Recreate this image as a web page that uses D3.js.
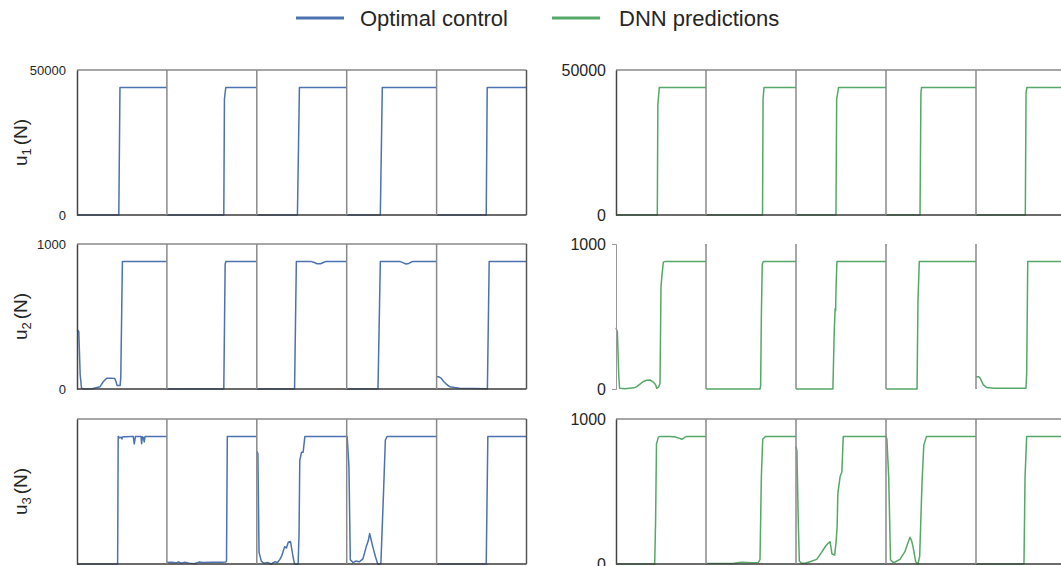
<!DOCTYPE html>
<html>
<head>
<meta charset="utf-8">
<script src="https://cdn.jsdelivr.net/npm/d3@7"></script>
<style>
  html, body { margin: 0; padding: 0; background: #fff; }
  svg { display: block; font-family: "Liberation Sans", Arial, sans-serif; }
</style>
</head>
<body>
<svg id="chart" width="1061" height="566"></svg>
<script>
// ---------------- DATA ----------------
const seriesNames = ["Optimal control", "DNN predictions"];
const rowLabels = ["1", "2", "3"];
const yMax = [50000, 1000, 1000];
const u1Ticks = [0, 50000];
const u2Ticks = [0, 1000];
const u3Ticks = [0, 1000];

// each segment: [t (normalised time 0..1), value]
const u1Optimal = [
  [[0,0],[0.465,0],[0.478,44000],[1,44000]],
  [[0,0],[0.633,0],[0.640,40000],[0.655,44000],[1,44000]],
  [[0,0],[0.452,0],[0.474,44000],[1,44000]],
  [[0,0],[0.374,0],[0.396,44000],[1,44000]],
  [[0,0],[0.552,0],[0.563,44000],[1,44000]]
];
const u1Dnn = [
  [[0,0],[0.459,0],[0.465,38000],[0.481,44000],[1,44000]],
  [[0,0],[0.628,0],[0.634,40000],[0.645,44000],[1,44000]],
  [[0,0],[0.444,0],[0.452,40000],[0.473,44000],[1,44000]],
  [[0,0],[0.378,0],[0.388,42000],[0.395,44000],[1,44000]],
  [[0,0],[0.548,0],[0.556,42000],[0.565,44000],[1,44000]]
];
const u2Optimal = [
  [[0,400],[0.01,405],[0.02,395],[0.035,100],[0.05,5],[0.08,0],[0.17,2],[0.21,8],[0.256,16],[0.292,50],[0.33,74],[0.37,75],[0.42,72],[0.435,50],[0.445,25],[0.48,25],[0.487,80],[0.505,880],[1,880]],
  [[0,0],[0.633,0],[0.648,860],[0.656,880],[1,880]],
  [[0,0],[0.42,0],[0.44,880],[0.6,880],[0.64,872],[0.67,864],[0.71,864],[0.74,872],[0.77,880],[1,880]],
  [[0,0],[0.348,0],[0.374,880],[0.59,880],[0.63,870],[0.66,862],[0.69,866],[0.72,876],[0.74,880],[1,880]],
  [[0,85],[0.02,85],[0.05,75],[0.08,50],[0.108,34],[0.144,16],[0.2,10],[0.255,6],[0.4,4],[0.555,2],[0.565,0],[0.585,880],[1,880]]
];
const u2Dnn = [
  [[0,423],[0.015,395],[0.03,100],[0.04,5],[0.1,2],[0.2,8],[0.23,16],[0.27,35],[0.3,50],[0.34,60],[0.378,62],[0.415,48],[0.44,30],[0.452,5],[0.475,15],[0.489,40],[0.5,705],[0.51,780],[0.526,875],[0.55,880],[1,880]],
  [[0,0],[0.6,0],[0.607,20],[0.615,500],[0.625,860],[0.637,880],[1,880]],
  [[0,0],[0.41,0],[0.425,400],[0.435,556],[0.44,540],[0.445,700],[0.455,880],[1,880]],
  [[0,0],[0.345,0],[0.355,600],[0.37,880],[1,880]],
  [[0,85],[0.03,85],[0.05,70],[0.08,30],[0.119,10],[0.2,6],[0.4,5],[0.555,5],[0.563,100],[0.575,880],[1,880]]
];
const u3Optimal = [
  [[0,0],[0.452,0],[0.458,880],[0.475,870],[0.49,875],[0.5,862],[0.51,878],[0.55,878],[0.6,880],[0.625,880],[0.637,828],[0.65,880],[0.712,880],[0.719,830],[0.728,878],[0.74,870],[0.748,842],[0.757,880],[1,880]],
  [[0,10],[0.05,12],[0.1,8],[0.13,14],[0.16,5],[0.2,12],[0.25,6],[0.3,2],[0.33,8],[0.36,14],[0.4,10],[0.5,12],[0.6,12],[0.655,14],[0.663,20],[0.672,880],[1,880]],
  [[0,780],[0.012,760],[0.025,80],[0.05,20],[0.08,5],[0.12,10],[0.16,0],[0.2,15],[0.23,10],[0.255,30],[0.28,60],[0.31,120],[0.33,110],[0.35,150],[0.375,155],[0.403,50],[0.42,0],[0.46,0],[0.47,210],[0.478,715],[0.497,770],[0.515,770],[0.535,880],[1,880]],
  [[0,880],[0.005,880],[0.025,670],[0.04,30],[0.07,10],[0.1,20],[0.14,15],[0.18,35],[0.218,120],[0.24,160],[0.255,210],[0.29,120],[0.32,50],[0.345,0],[0.38,0],[0.41,500],[0.43,855],[0.45,880],[1,880]],
  [[0,0],[0.552,0],[0.57,880],[1,880]]
];
const u3Dnn = [
  [[0,0],[0.43,0],[0.44,300],[0.45,830],[0.46,850],[0.47,875],[0.49,880],[0.6,880],[0.66,876],[0.7,868],[0.73,860],[0.76,872],[0.785,880],[1,880]],
  [[0,3],[0.3,3],[0.35,8],[0.4,12],[0.45,10],[0.5,8],[0.58,10],[0.6,30],[0.615,600],[0.63,860],[0.66,880],[1,880]],
  [[0,810],[0.01,780],[0.025,300],[0.037,20],[0.06,5],[0.1,5],[0.155,16],[0.23,32],[0.29,85],[0.33,124],[0.36,145],[0.378,154],[0.39,110],[0.4,69],[0.43,62],[0.445,150],[0.457,257],[0.465,487],[0.49,602],[0.51,637],[0.525,880],[1,880]],
  [[0,880],[0.01,860],[0.03,600],[0.05,30],[0.08,10],[0.1,14],[0.155,32],[0.21,85],[0.24,140],[0.267,184],[0.285,160],[0.3,120],[0.33,16],[0.355,0],[0.374,51],[0.4,556],[0.42,820],[0.45,880],[1,880]],
  [[0,0],[0.533,0],[0.545,600],[0.563,880],[1,880]]
];

// ---------------- LAYOUT ----------------
const colors = ["#4c72b0", "#55a868"];
const columns = [
  { x0: 77, w: 449.5, data: [u1Optimal, u2Optimal, u3Optimal], color: colors[0], tickFont: 13, ticks: [u1Ticks, u2Ticks, null] },
  { x0: 616, w: 450, data: [u1Dnn, u2Dnn, u3Dnn], color: colors[1], tickFont: 16, ticks: [u1Ticks, u2Ticks, u3Ticks] }
];
const rows = [ { top: 70, bottom: 215 }, { top: 244, bottom: 389 }, { top: 419, bottom: 564 } ];
const nSeg = 5;

const svg = d3.select("#chart");

// legend
const legend = svg.append("g");
const legendItems = [ { x: 296, tx: 360 }, { x: 552, tx: 619 } ];
seriesNames.forEach((name, i) => {
  legend.append("line").attr("x1", legendItems[i].x).attr("x2", legendItems[i].x + 48)
    .attr("y1", 18).attr("y2", 18).attr("stroke", colors[i]).attr("stroke-width", 3);
  legend.append("text").attr("x", legendItems[i].tx).attr("y", 18).attr("dy", "0.35em")
    .attr("font-size", 22).attr("fill", "#262626").text(name);
});

columns.forEach((col, ci) => {
  rows.forEach((row, ri) => {
    const g = svg.append("g");
    const y = d3.scaleLinear().domain([0, yMax[ri]]).range([row.bottom, row.top]);
    const segW = col.w / nSeg;
    const line = (xs) => d3.line().x(d => xs(d[0])).y(d => y(d[1]));

    // data lines
    col.data[ri].forEach((seg, si) => {
      const xs = d3.scaleLinear().domain([0, 1]).range([col.x0 + si * segW, col.x0 + (si + 1) * segW]);
      g.append("path").datum(seg).attr("d", line(xs))
        .attr("fill", "none").attr("stroke", col.color).attr("stroke-width", 1.5)
        .attr("stroke-linejoin", "round");
    });

    const noBox = (ci === 1 && ri === 1);
    // frame
    if (!noBox) {
      g.append("line").attr("x1", col.x0).attr("x2", col.x0 + col.w).attr("y1", row.top).attr("y2", row.top)
        .attr("stroke", "#888").attr("stroke-width", 1.5);
      g.append("line").attr("x1", col.x0).attr("x2", col.x0 + col.w).attr("y1", row.bottom).attr("y2", row.bottom)
        .attr("stroke", "#3a3a3a").attr("stroke-width", 1.5);
      g.append("line").attr("x1", col.x0 + col.w).attr("x2", col.x0 + col.w).attr("y1", row.top).attr("y2", row.bottom)
        .attr("stroke", "#555").attr("stroke-width", 1.5);
    }
    for (let si = 1; si < nSeg; si++) {
      const xv = col.x0 + si * segW;
      g.append("line").attr("x1", xv).attr("x2", xv).attr("y1", row.top).attr("y2", row.bottom)
        .attr("stroke", "#8a8a8a").attr("stroke-width", 1.5);
    }

    // y axis
    const ticks = col.ticks[ri];
    const axis = d3.axisLeft(y).tickValues(ticks || []).tickFormat(d3.format("d"))
      .tickSize(noBox ? 4 : 0).tickPadding(noBox ? 6 : (ci === 0 ? 11 : 10));
    const ag = g.append("g").attr("transform", `translate(${col.x0},0)`).call(axis);
    ag.select(".domain").attr("stroke", noBox ? "#999" : "#444").attr("stroke-width", noBox ? 1 : 1.5);
    ag.selectAll(".tick line").attr("stroke", "#999");
    ag.selectAll(".tick text").attr("font-size", col.tickFont).attr("fill", "#262626")
      .attr("font-family", "Liberation Sans, Arial, sans-serif");

    // y label (left column)
    if (ci === 0) {
      const cy = (row.top + row.bottom) / 2;
      const t = g.append("text").attr("transform", `translate(27,${cy}) rotate(-90)`)
        .attr("text-anchor", "middle").attr("font-size", 19).attr("fill", "#262626");
      t.append("tspan").text("u");
      t.append("tspan").attr("font-size", 13).attr("dy", 4).text(rowLabels[ri]);
      t.append("tspan").attr("dy", -4).attr("dx", 3).text("(N)");
    }
  });
});
</script>
</body>
</html>
